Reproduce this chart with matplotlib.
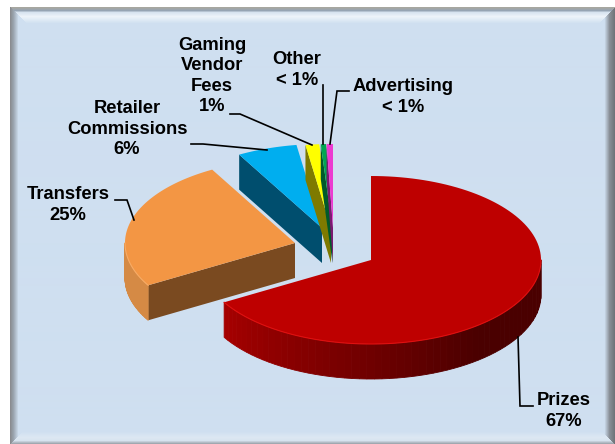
import numpy as np
import matplotlib
matplotlib.use("Agg")
import matplotlib.pyplot as plt
from matplotlib.colors import to_rgb
from matplotlib.patches import Polygon

plt.rcParams['font.family'] = ['Liberation Sans', 'DejaVu Sans']

categories = ['Prizes', 'Transfers', 'Retailer Commissions', 'Gaming Vendor Fees', 'Other', 'Advertising']
values = [66.6, 25.3, 5.7, 1.3, 0.5, 0.6]
labels = ['Prizes\n67%', 'Transfers\n25%', 'Retailer\nCommissions\n6%',
          'Gaming\nVendor\nFees\n1%', 'Other\n< 1%', 'Advertising\n< 1%']

top_colors = ['#BE0000', '#F39644', '#00AEEF', '#FFFF00', '#00A651', '#EC3AD0']
cut_colors = ['#7A0000', '#7A4A20', '#004E6E', '#7E7A00', '#005A2A', '#7A1A70']
edge_colors = ['#A00000', '#D58A45', '#004E6E', '#7E7A00', '#005A2A', '#7A1A70']
rim_colors = ['#E01010', '#F8AC66', None, None, None, None]

# apex of each exploded slice, in pixels
apex_x = [371, 295, 322, 331, 332.5, 333]
apex_y = [260, 243, 228, 228, 228, 228]
rx, ry, depth = 170, 84, 35

label_x = [564, 68, 127, 212, 297, 403]
label_y = [411, 205, 129, 76, 70, 97]
leader_x = [[518, 520, 533], [115, 127, 134], [191, 203, 267], [230, 240, 312], [323, 323], [349, 337, 330]]
leader_y = [[337, 406, 406], [200, 200, 220], [144, 144, 150], [114, 114, 145], [85, 144], [91, 91, 144]]


def arc(i, t0, t1, n=120):
    t = np.radians(np.linspace(t0, t1, n))
    return apex_x[i] + rx * np.sin(t), apex_y[i] - ry * np.cos(t)


def shade(i, t):
    # side of the big slice gets darker toward the right
    if i != 0:
        return edge_colors[i]
    f = np.clip((240 - t) / 100, 0, 1)
    a = np.array(to_rgb('#A80000'))
    b = np.array(to_rgb('#4A0000'))
    return tuple(a + (b - a) * f)


def panel_image():
    # bevelled panel: each pixel takes the ramp of its nearest side
    h, w = 436, 605
    yy, xx = np.mgrid[0:h, 0:w].astype(float)
    base = np.array(to_rgb('#CFDFF0'))
    d = [xx, yy, w - 1 - xx, h - 1 - yy]
    ramps = [
        ([0, 3, 8], ['#8A8C90', '#9AA4AE', '#CFDFF0']),
        ([0, 3, 5, 9, 16], ['#A8A8A0', '#96A4B4', '#D8E4F0', '#EEF4FA', '#CFDFF0']),
        ([0, 5, 10], ['#70757A', '#8A9098', '#CFDFF0']),
        ([0, 3, 6, 12], ['#A0A8B0', '#D8E4F0', '#DDE8F3', '#CFDFF0']),
    ]
    nearest = np.argmin(np.stack(d), axis=0)
    img = np.zeros((h, w, 3)) + base
    for k, (pos, cols) in enumerate(ramps):
        rgb = np.array([to_rgb(c) for c in cols])
        for c in range(3):
            v = np.interp(d[k], pos, rgb[:, c])
            img[..., c][nearest == k] = v[nearest == k]
    return img


fig = plt.figure(figsize=(6.15, 4.44), dpi=100, facecolor='white')
ax = fig.add_axes([0, 0, 1, 1])
ax.imshow(panel_image(), extent=(10, 615, 444, 8), aspect='auto', zorder=0, interpolation='bilinear')
ax.set_xlim(0, 615)
ax.set_ylim(444, 0)
ax.axis('off')

angles = np.cumsum([0] + values) * 3.6
order = [2, 3, 4, 5, 1, 0]
z = 2
for i in order:
    t0, t1 = angles[i], angles[i + 1]
    x, y = arc(i, t0, t1)
    ax_, ay_ = apex_x[i], apex_y[i]
    # cut face on the start edge
    sx, sy = arc(i, t0, t0, 1)
    if i != 0:
        ax.add_patch(Polygon([(ax_, ay_), (sx[0], sy[0]), (sx[0], sy[0] + depth), (ax_, ay_ + depth)],
                             fc=cut_colors[i], ec='none', zorder=z))
    # outer wall, front half only
    lo, hi = max(t0, 90), min(t1, 270)
    if hi > lo:
        steps = np.linspace(lo, hi, 60)
        for a, b in zip(steps[:-1], steps[1:]):
            xa, ya = arc(i, a, b, 6)
            pts = list(zip(xa, ya)) + list(zip(xa[::-1], ya[::-1] + depth))
            col = shade(i, a)
            ax.add_patch(Polygon(pts, fc=col, ec=col, lw=0.6, zorder=z))
    # top face
    ax.add_patch(Polygon([(ax_, ay_)] + list(zip(x, y)), fc=top_colors[i], ec='none', zorder=z + 0.5))
    if rim_colors[i] and hi > lo:
        rx_, ry_ = arc(i, lo, hi)
        ax.plot(rx_, ry_, color=rim_colors[i], lw=0.8, zorder=z + 0.6)
    z += 1

for lx, ly in zip(leader_x, leader_y):
    ax.plot(lx, ly, color='black', lw=1.2, zorder=20, solid_joinstyle='miter')

for i, txt in enumerate(labels):
    ax.text(label_x[i], label_y[i], txt, ha='center', va='center', fontsize=13.2, fontweight='bold',
            color='black', linespacing=1.26, zorder=21)

fig.savefig('out.png', dpi=100)
